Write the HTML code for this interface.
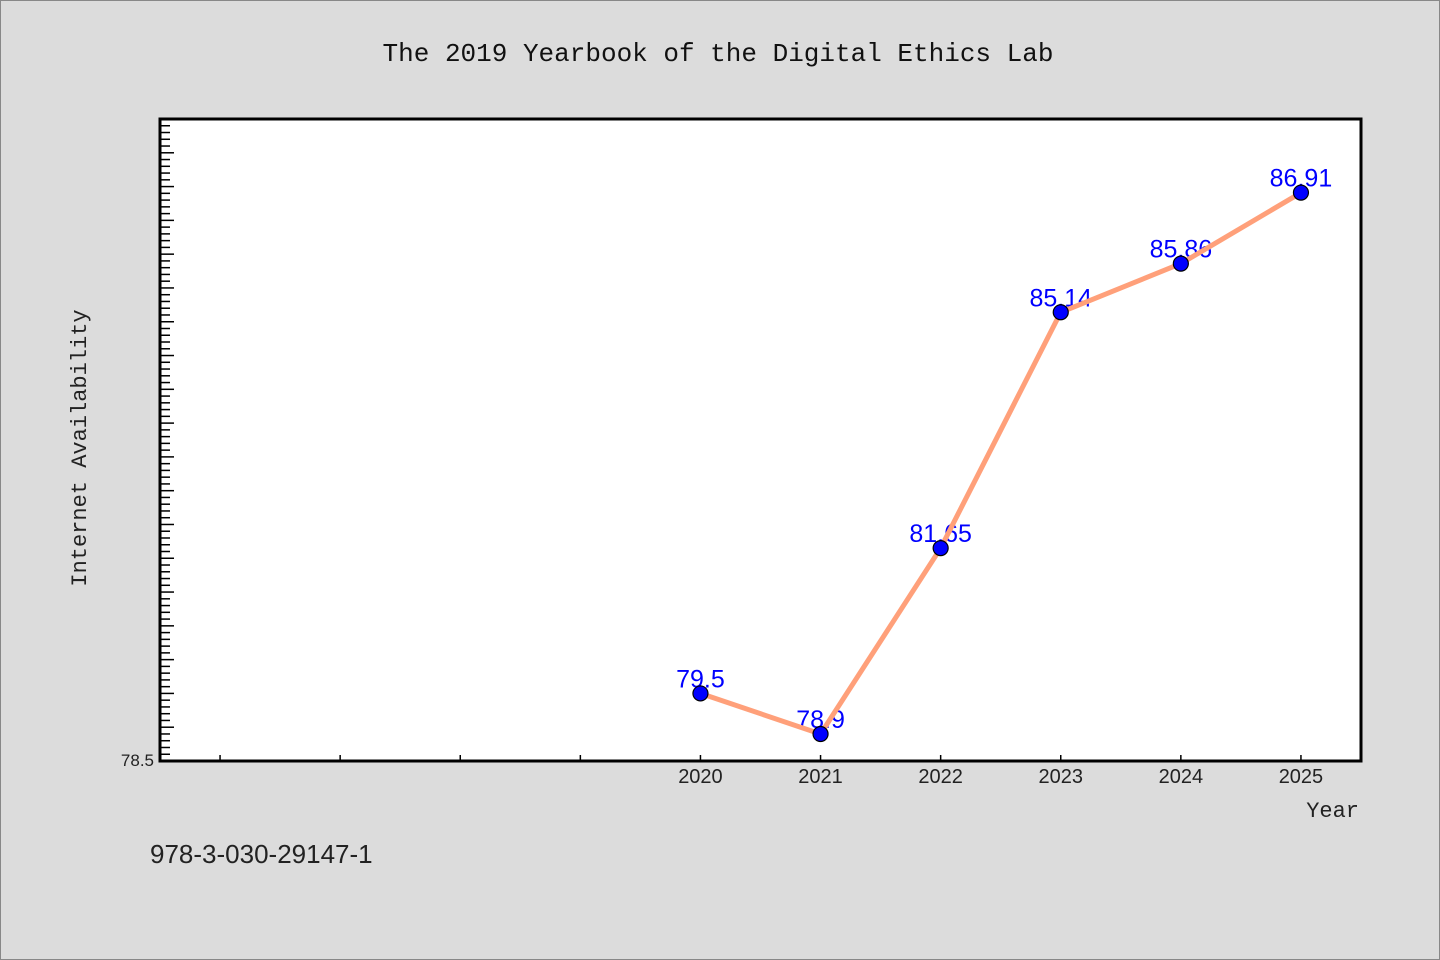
<!DOCTYPE html>
<html><head><meta charset="utf-8">
<style>
html,body{margin:0;padding:0;background:#dcdcdc;}
svg{display:block;}
text{font-family:"Liberation Sans","Noto Sans CJK SC",sans-serif;}
.mono{font-family:"Liberation Mono","Noto Sans CJK SC",monospace;}
</style></head>
<body>
<svg id="chart" width="1440" height="960" xmlns="http://www.w3.org/2000/svg">
<rect x="0.5" y="0.5" width="1439" height="959" fill="#dcdcdc" stroke="#888"/>
<text class="mono" x="718" y="61" font-size="26" text-anchor="middle" fill="#111">The 2019 Yearbook of the Digital Ethics Lab</text>
<rect x="160" y="119" width="1201" height="642" fill="#fff"/>
<g id="ticks"></g>
<g id="labels"></g>
<g id="series"></g>
<g id="points"></g>
<path d="M160,119 V761 H1361 V119 Z" fill="none" stroke="#000" stroke-width="3"/>
<text class="mono" x="86" y="448" font-size="22" text-anchor="middle" fill="#222" transform="rotate(-90 86 448)">Internet Availability</text>
<text class="mono" x="1359" y="817" font-size="22" text-anchor="end" fill="#222">Year</text>
<text x="150" y="863" font-size="26" fill="#222">978-3-030-29147-1</text>
<text x="154" y="766" font-size="17" text-anchor="end" fill="#222">78.5</text>
</svg>
<script>
const years = [2020, 2021, 2022, 2023, 2024, 2025];
const values = [79.5, 78.9, 81.65, 85.14, 85.86, 86.91];
const valueLabels = ["79.5", "78.9", "81.65", "85.14", "85.86", "86.91"];
const minorYears = [2016, 2017, 2018, 2019];

const X0 = 160, X1 = 1361, Y0 = 761, Y1 = 119;
const xMin = 2015.5, xMax = 2025.5, yMin = 78.5, yMax = 88.0;
const xs = v => X0 + (v - xMin) / (xMax - xMin) * (X1 - X0);
const ys = v => Y0 - (v - yMin) / (yMax - yMin) * (Y0 - Y1);
const NS = "http://www.w3.org/2000/svg";
function mk(tag, attrs, parent) {
  const e = document.createElementNS(NS, tag);
  for (const k in attrs) e.setAttribute(k, attrs[k]);
  document.getElementById(parent).appendChild(e);
  return e;
}
// y ticks
for (let i = 1; ; i++) {
  const v = yMin + i * 0.1;
  const y = ys(v);
  if (y < Y1 + 3) break;
  const major = i % 5 === 0;
  const t = mk("line", {x1: X0, x2: X0 + (major ? 14 : 10), y1: y, y2: y, stroke: "#000", "stroke-width": 1.5}, "ticks");
  
  
}
// x ticks
[...minorYears, ...years].forEach(yr => {
  const x = xs(yr);
  const t = mk("line", {x1: x, x2: x, y1: Y0, y2: Y0 - 6, stroke: "#000", "stroke-width": 1.5}, "ticks");
  
  
});
years.forEach(yr => {
  const t = mk("text", {x: xs(yr), y: Y0 + 22, "font-size": 20, "text-anchor": "middle", fill: "#222"}, "ticks");
  t.textContent = yr;
  
  
});
// value labels (behind line)
years.forEach((yr, i) => {
  const t = mk("text", {x: xs(yr), y: ys(values[i]) - 6, "font-size": 25, "text-anchor": "middle", fill: "#0000ff"}, "labels");
  t.textContent = valueLabels[i];
  
  
});
const pts = years.map((yr, i) => xs(yr) + "," + ys(values[i])).join(" ");
const line = mk("polyline", {points: pts, fill: "none", stroke: "#ffa07a", "stroke-width": 5, "stroke-linejoin": "round"}, "series");


years.forEach((yr, i) => {
  const c = mk("circle", {cx: xs(yr), cy: ys(values[i]), r: 7.5, fill: "#0000ff", stroke: "#000", "stroke-width": 1.2}, "points");
  
  
});
</script>
</body></html>
